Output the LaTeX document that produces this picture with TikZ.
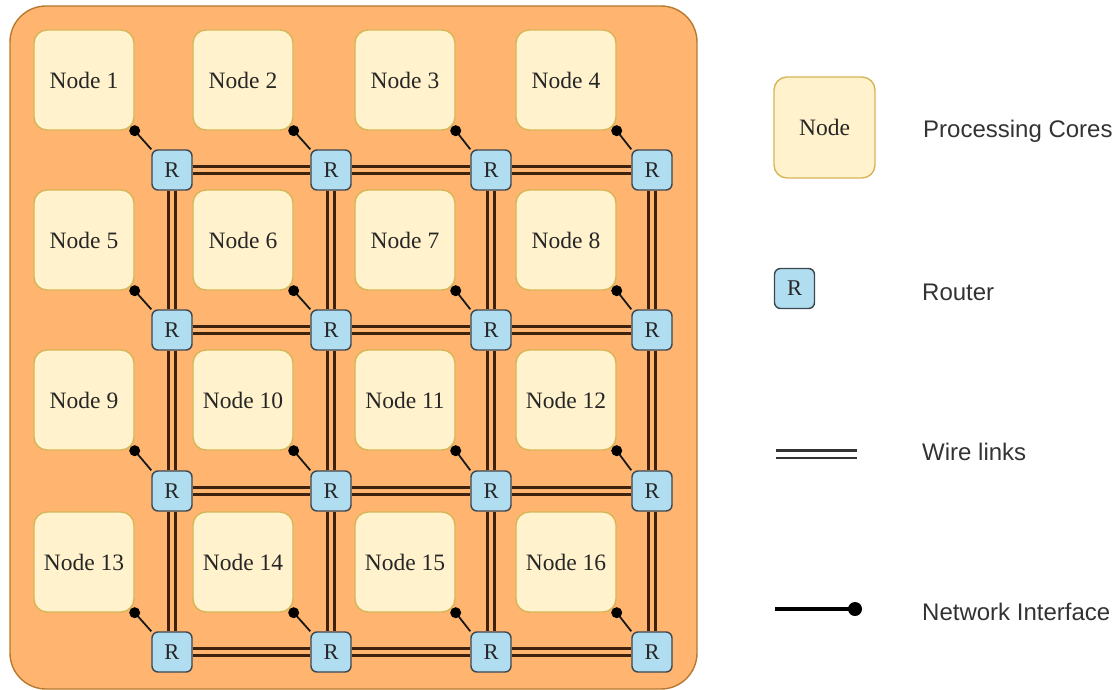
\documentclass[tikz,border=0pt]{standalone}
\usepackage{fontspec}
\setmainfont{Liberation Serif}
\newfontfamily\legendfont{Liberation Sans}
\definecolor{chipfill}{HTML}{FFB570}
\definecolor{chipdraw}{HTML}{B8792E}
\definecolor{corefill}{HTML}{FFF2CC}
\definecolor{coredraw}{HTML}{D6B656}
\definecolor{routfill}{HTML}{B1DDF0}
\definecolor{routdraw}{HTML}{3B4650}
\definecolor{wirecol}{HTML}{3E220E}
\definecolor{legtext}{HTML}{333333}
\tikzset{
  core/.style={draw=coredraw, fill=corefill, line width=1.4pt, rounded corners=13pt,
    minimum width=100pt, minimum height=100pt, inner sep=0pt,
    font=\fontsize{23.5}{27}\selectfont, text=black!85},
  router/.style={draw=routdraw, fill=routfill, line width=1.4pt, rounded corners=6pt,
    minimum width=40pt, minimum height=40pt, inner sep=0pt,
    font=\fontsize{22.5}{26}\selectfont, text=black!85},
  wire/.style={draw=wirecol, line width=2.3pt, double=chipfill, double distance=4.8pt},
  ni/.style={draw=black!90, line width=1.8pt},
  nidot/.style={fill=black},
  legtxt/.style={anchor=west, inner sep=0pt, text=legtext, font=\legendfont\fontsize{24}{28}\selectfont}
}
\begin{document}
\begin{tikzpicture}[x=1pt,y=-1pt]
\useasboundingbox (0,0) rectangle (1118,690);
% chip
\draw[draw=chipdraw, fill=chipfill, line width=1.4pt, rounded corners=36pt] (10,6) rectangle (697,689);
% cores
\foreach \row/\y in {0/80,1/240,2/400,3/562}{
  \foreach \col/\x in {1/84,2/243,3/405,4/566}{
    \pgfmathtruncatemacro{\n}{\row*4+\col}
    \node[core] (n\n) at (\x,\y) {Node \n};
  }
}
% routers
\foreach \r/\y in {1/170,2/330,3/491,4/652}{
  \foreach \c/\x in {1/172,2/331,3/491,4/652}{
    \node[router] (r\r\c) at (\x,\y) {R};
  }
}
% wires
\foreach \r in {1,2,3,4}{
  \draw[wire] (r\r1.east) -- (r\r2.west);
  \draw[wire] (r\r2.east) -- (r\r3.west);
  \draw[wire] (r\r3.east) -- (r\r4.west);
}
\foreach \c in {1,2,3,4}{
  \draw[wire] (r1\c.south) -- (r2\c.north);
  \draw[wire] (r2\c.south) -- (r3\c.north);
  \draw[wire] (r3\c.south) -- (r4\c.north);
}
% network interfaces
\foreach \row in {0,1,2,3}{
  \foreach \col in {1,2,3,4}{
    \pgfmathtruncatemacro{\n}{\row*4+\col}
    \pgfmathtruncatemacro{\rr}{\row+1}
    \draw[ni] (n\n.south east) -- (r\rr\col.north west);
    \fill[nidot] (n\n.south east) circle (5.5);
  }
}
% legend
\node[core, minimum width=101pt, minimum height=101pt] (lcore) at (824.5,127.5) {Node};
\node[legtxt] (lcoretxt) at (923,131) {Processing Cores};
\node[router] (lrout) at (794.5,288.5) {R};
\node[legtxt] (lrouttxt) at (922,292) {Router};
\coordinate (lw1) at (776,454);
\coordinate (lw2) at (857,454);
\draw[draw=legtext, line width=2.3pt, double=white, double distance=5pt] (lw1) -- (lw2);
\node[legtxt] (lwiretxt) at (922,452) {Wire links};
\coordinate (ln1) at (775,609);
\coordinate (ln2) at (855,609);
\draw[black, line width=3.5pt] (ln1) -- (ln2);
\fill[black] (ln2) circle (7);
\node[legtxt] (lnitxt) at (922,612) {Network Interface};
\end{tikzpicture}
\end{document}
